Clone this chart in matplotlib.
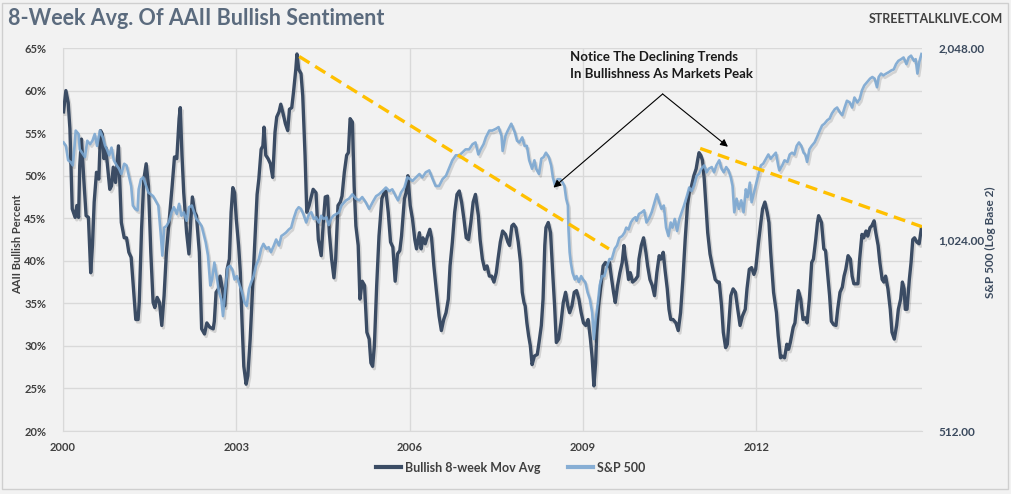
import matplotlib
matplotlib.use("Agg")
import matplotlib.pyplot as plt
import matplotlib.patheffects as pe
from matplotlib.patches import Rectangle
from matplotlib.ticker import FixedLocator, FuncFormatter, NullLocator

plt.rcParams["font.family"] = ["Lato", "DejaVu Sans"]

BG = "#f2f2f2"
BULL = "#3b4c64"
SPX = "#7ba7d1"
GRID = "#d9d9d9"
TREND = "#ffc000"
INK = "#404040"

# AAII bullish sentiment, 8-week moving average (percent)
bull_years = [
    2000.01, 2000.05, 2000.09, 2000.12, 2000.16, 2000.21, 2000.24, 2000.27, 2000.29, 2000.32,
    2000.36, 2000.40, 2000.44, 2000.48, 2000.51, 2000.54, 2000.58, 2000.62, 2000.65, 2000.68,
    2000.71, 2000.74, 2000.77, 2000.81, 2000.84, 2000.87, 2000.91, 2000.96, 2000.99, 2001.01,
    2001.06, 2001.10, 2001.14, 2001.18, 2001.22, 2001.26, 2001.30, 2001.32, 2001.36, 2001.40,
    2001.44, 2001.48, 2001.52, 2001.56, 2001.59, 2001.63, 2001.67, 2001.71, 2001.75, 2001.79,
    2001.85, 2001.89, 2001.93, 2001.97, 2002.01, 2002.03, 2002.06, 2002.09, 2002.14, 2002.18,
    2002.21, 2002.24, 2002.28, 2002.31, 2002.36, 2002.40, 2002.45, 2002.49,
    2002.54, 2002.60, 2002.62, 2002.65, 2002.69, 2002.72, 2002.76, 2002.80, 2002.84, 2002.88,
    2002.91, 2002.94, 2002.97, 2003.00, 2003.04, 2003.07, 2003.10, 2003.13, 2003.17, 2003.20,
    2003.24, 2003.29, 2003.33, 2003.36, 2003.39, 2003.43, 2003.46, 2003.48, 2003.51, 2003.55,
    2003.59, 2003.63, 2003.67, 2003.70, 2003.74, 2003.77, 2003.81, 2003.85, 2003.89, 2003.92,
    2003.96, 2003.99, 2004.03, 2004.05, 2004.08, 2004.12, 2004.15, 2004.19, 2004.22, 2004.26,
    2004.29, 2004.33, 2004.38, 2004.42, 2004.47, 2004.51, 2004.54, 2004.58, 2004.61, 2004.65,
    2004.69, 2004.72, 2004.76, 2004.80, 2004.83, 2004.87, 2004.91, 2004.94, 2004.97,
    2005.01, 2005.04, 2005.07, 2005.11, 2005.14, 2005.18, 2005.22, 2005.26, 2005.30, 2005.33,
    2005.36, 2005.39, 2005.43, 2005.47, 2005.52, 2005.56, 2005.59, 2005.63, 2005.67, 2005.71,
    2005.75, 2005.79, 2005.83, 2005.86, 2005.91, 2005.94, 2005.97, 2006.01, 2006.05, 2006.09,
    2006.12, 2006.17, 2006.20, 2006.23, 2006.27, 2006.31, 2006.35, 2006.38, 2006.42, 2006.46,
    2006.51, 2006.55, 2006.59, 2006.63, 2006.67, 2006.70, 2006.74, 2006.78, 2006.82, 2006.86,
    2006.90, 2006.94, 2006.98, 2007.02, 2007.06, 2007.10, 2007.14, 2007.19, 2007.22, 2007.26,
    2007.30, 2007.34, 2007.38,
    2007.42, 2007.46, 2007.50, 2007.53, 2007.57, 2007.61, 2007.66, 2007.70, 2007.73, 2007.77,
    2007.80, 2007.84, 2007.88, 2007.92, 2007.95, 2007.98, 2008.00, 2008.03, 2008.06, 2008.09,
    2008.12, 2008.16, 2008.21, 2008.24, 2008.28, 2008.31, 2008.34, 2008.36, 2008.40, 2008.44,
    2008.48, 2008.51, 2008.54, 2008.58, 2008.62, 2008.66, 2008.70, 2008.74, 2008.77, 2008.81,
    2008.85, 2008.89, 2008.93, 2008.97, 2009.01, 2009.05, 2009.09, 2009.13, 2009.16, 2009.19,
    2009.22, 2009.24, 2009.27, 2009.31, 2009.35, 2009.39, 2009.43, 2009.46, 2009.49, 2009.53,
    2009.56, 2009.60, 2009.64, 2009.68, 2009.71, 2009.73, 2009.76, 2009.79, 2009.82, 2009.86,
    2009.91, 2009.95, 2009.97, 2010.01, 2010.05, 2010.09, 2010.12, 2010.16, 2010.20, 2010.24,
    2010.28, 2010.32, 2010.35, 2010.39, 2010.42, 2010.46, 2010.49, 2010.52, 2010.56, 2010.61,
    2010.65, 2010.69, 2010.73, 2010.77, 2010.81, 2010.84, 2010.88, 2010.92, 2010.96, 2010.99,
    2011.01, 2011.04, 2011.07, 2011.10, 2011.13, 2011.16, 2011.20, 2011.24, 2011.29, 2011.33,
    2011.36, 2011.40, 2011.43, 2011.47, 2011.50, 2011.53, 2011.56, 2011.60, 2011.64, 2011.68,
    2011.72, 2011.76, 2011.81, 2011.84, 2011.88, 2011.92, 2011.96, 2011.99, 2012.04, 2012.08,
    2012.11, 2012.15, 2012.19, 2012.22, 2012.25, 2012.30,
    2012.35, 2012.38, 2012.42, 2012.45, 2012.49, 2012.53, 2012.56, 2012.59, 2012.64, 2012.67,
    2012.70, 2012.73, 2012.77, 2012.81, 2012.85, 2012.88, 2012.92, 2012.96, 2012.99, 2013.03,
    2013.06, 2013.08, 2013.13, 2013.17, 2013.20, 2013.24, 2013.27, 2013.30, 2013.34, 2013.38,
    2013.41, 2013.45, 2013.49, 2013.52, 2013.55, 2013.59, 2013.63, 2013.66, 2013.69, 2013.73,
    2013.76, 2013.79, 2013.83, 2013.86, 2013.90, 2013.93, 2013.97, 2014.00, 2014.04, 2014.07,
    2014.11, 2014.14, 2014.18, 2014.21, 2014.24, 2014.28, 2014.32, 2014.35, 2014.39, 2014.43,
    2014.46, 2014.50, 2014.53, 2014.56, 2014.58, 2014.61, 2014.65, 2014.68, 2014.71, 2014.74,
    2014.78, 2014.82, 2014.86,
]
bull_pct = [
    57.5, 60.0, 58.6, 55.5, 46.1, 45.1, 46.5, 45.1, 51.2, 54.3,
    49.6, 45.3, 45.1, 38.6, 41.8, 46.9, 50.4, 49.6, 55.3, 54.9,
    52.0, 53.3, 51.2, 48.4, 48.8, 51.0, 49.2, 53.5, 48.0, 44.5,
    42.7, 42.7, 41.0, 40.4, 36.7, 33.1, 33.1, 35.1, 43.7, 49.6,
    51.4, 48.8, 41.0, 35.1, 34.5, 35.7, 35.1, 32.4, 35.9, 41.0,
    45.7, 48.8, 52.2, 52.0, 56.7, 58.0, 52.4, 48.0, 43.3, 40.8,
    44.5, 47.5, 45.7, 45.3, 41.0, 32.0, 31.4, 32.7,
    32.2, 32.0, 32.9, 36.3, 36.7, 38.2, 36.7, 34.7, 39.0, 40.2,
    45.7, 48.6, 48.0, 44.9, 41.8, 38.6, 32.7, 27.6, 25.5, 26.5,
    30.8, 37.8, 43.3, 47.8, 49.6, 53.1, 53.5, 55.7, 52.4, 52.0,
    51.4, 49.8, 55.1, 56.9, 57.5, 58.4, 57.3, 56.1, 55.3, 57.8,
    58.0, 59.8, 62.5, 64.3, 62.5, 62.0, 59.4, 52.4, 45.7, 46.5,
    47.3, 48.4, 48.0, 42.5, 40.6, 44.9, 47.5, 47.6, 43.3, 40.2,
    38.0, 40.2, 46.5, 46.9, 47.6, 50.4, 52.4, 52.7, 56.7,
    56.3, 48.8, 44.1, 41.8, 35.5, 37.6, 37.1, 31.6, 30.8, 28.0,
    27.6, 30.0, 37.1, 42.9, 47.3, 48.0, 48.2, 45.7, 42.2, 41.6,
    37.6, 40.8, 41.2, 42.9, 47.3, 48.0, 50.0, 46.5, 44.9, 42.5,
    41.4, 43.3, 41.4, 42.7, 42.0, 42.9, 43.7, 42.7, 39.4, 36.7,
    33.5, 31.8, 33.1, 33.9, 35.5, 39.4, 42.2, 45.7, 47.8, 48.2,
    46.9, 44.9, 42.7, 42.5, 44.5, 46.9, 47.8, 45.3, 42.5, 40.2,
    39.0, 39.4, 38.2,
    38.2, 37.5, 38.6, 40.2, 42.2, 43.5, 43.1, 42.2, 41.8, 44.1,
    44.3, 43.9, 42.2, 39.8, 36.3, 35.1, 34.7, 32.7, 31.2, 30.0,
    27.8, 28.8, 29.0, 30.4, 32.4, 35.5, 41.8, 43.9, 44.5, 43.3,
    38.2, 34.7, 30.4, 30.8, 32.7, 35.1, 36.3, 34.7, 33.9, 34.7,
    36.3, 36.5, 35.5, 33.9, 32.7, 32.4, 33.1, 30.8, 28.6, 25.3,
    28.0, 31.6, 34.7, 37.1, 39.4, 39.8, 39.4, 39.8, 38.2, 36.3,
    35.1, 37.1, 38.6, 39.8, 41.8, 40.6, 39.4, 37.8, 38.6, 37.5,
    37.8, 38.2, 40.2, 41.8, 42.7, 41.0, 39.4, 37.8, 37.1, 35.9,
    38.6, 40.6, 40.2, 41.0, 39.0, 36.7, 34.3, 33.1, 33.1, 32.7,
    31.8, 33.9, 37.8, 42.5, 46.5, 48.0, 48.8, 50.0, 50.8, 52.0,
    52.7, 52.4, 51.8, 49.6, 46.5, 43.3, 40.8, 39.4, 37.8, 37.5,
    37.5, 34.7, 31.6, 29.8, 30.2, 33.1, 35.9, 36.7, 36.3, 34.3,
    32.4, 33.5, 34.3, 36.7, 39.0, 39.2, 38.4, 39.0, 42.2, 44.5,
    46.1, 46.9, 45.7, 44.5, 41.0, 36.3,
    33.9, 31.2, 28.6, 28.8, 28.6, 30.2, 29.6, 30.4, 32.2, 32.7,
    34.7, 36.5, 35.5, 33.1, 33.3, 32.7, 35.5, 39.8, 40.2, 42.5,
    44.5, 45.3, 44.5, 41.4, 41.2, 38.2, 35.9, 32.9, 32.5, 32.4,
    34.3, 36.3, 36.9, 38.2, 39.0, 40.6, 40.2, 38.2, 37.3, 37.3,
    37.3, 40.2, 43.1, 42.7, 43.5, 42.9, 43.9, 44.1, 44.7, 43.3,
    41.8, 39.8, 37.8, 37.5, 38.2, 36.7, 34.3, 31.6, 30.8, 32.4,
    34.3, 35.5, 37.5, 36.7, 34.3, 34.3, 37.8, 39.8, 42.5, 42.7,
    42.2, 42.0, 43.9,
]

# S&P 500 index level
spx_years = [
    2000.01, 2000.05, 2000.09, 2000.13, 2000.17, 2000.20, 2000.22, 2000.27, 2000.29, 2000.33,
    2000.38, 2000.42, 2000.47, 2000.51, 2000.55, 2000.59, 2000.64, 2000.69, 2000.73, 2000.76,
    2000.80, 2000.84, 2000.88, 2000.93, 2000.97, 2001.01, 2001.06, 2001.10, 2001.14, 2001.18,
    2001.21, 2001.25, 2001.29, 2001.31, 2001.35, 2001.39, 2001.44, 2001.48, 2001.52, 2001.56,
    2001.60, 2001.65, 2001.69, 2001.72, 2001.75, 2001.79, 2001.84, 2001.88, 2001.92, 2001.97,
    2002.01, 2002.05, 2002.09, 2002.14, 2002.18, 2002.23, 2002.27, 2002.31, 2002.36, 2002.40,
    2002.47, 2002.51, 2002.55, 2002.58, 2002.62, 2002.66, 2002.70, 2002.74, 2002.77, 2002.81,
    2002.85, 2002.89, 2002.93, 2002.97, 2003.01, 2003.06, 2003.10, 2003.14, 2003.18, 2003.22,
    2003.26, 2003.30, 2003.34, 2003.39, 2003.43, 2003.47, 2003.52, 2003.56, 2003.60, 2003.65,
    2003.69, 2003.74, 2003.78, 2003.82, 2003.86, 2003.91, 2003.95, 2003.99, 2004.04, 2004.08,
    2004.12, 2004.16, 2004.21, 2004.26, 2004.30, 2004.34, 2004.38, 2004.43, 2004.47, 2004.51,
    2004.56, 2004.60, 2004.64, 2004.68, 2004.73, 2004.78, 2004.82, 2004.87,
    2004.90, 2004.95, 2005.01, 2005.07, 2005.13, 2005.18, 2005.24, 2005.30, 2005.36, 2005.42,
    2005.47, 2005.53, 2005.59, 2005.65, 2005.70, 2005.76, 2005.80, 2005.85, 2005.91, 2005.96,
    2006.01, 2006.05, 2006.11, 2006.17, 2006.22, 2006.28, 2006.34, 2006.40, 2006.45, 2006.51,
    2006.57, 2006.63, 2006.68, 2006.74, 2006.80, 2006.86, 2006.91, 2006.97, 2007.03, 2007.09,
    2007.14, 2007.19, 2007.23, 2007.28, 2007.32, 2007.38,
    2007.43, 2007.49, 2007.54, 2007.59, 2007.61, 2007.66, 2007.70, 2007.76, 2007.82, 2007.86,
    2007.90, 2007.95, 2007.99, 2008.03, 2008.07, 2008.12, 2008.16, 2008.19, 2008.24, 2008.28,
    2008.32, 2008.36, 2008.41, 2008.45, 2008.48, 2008.52, 2008.56, 2008.61, 2008.65, 2008.68,
    2008.71, 2008.74, 2008.75, 2008.77, 2008.79, 2008.82, 2008.86, 2008.89, 2008.93, 2008.97,
    2009.00, 2009.04, 2009.08, 2009.12, 2009.16, 2009.19, 2009.22, 2009.26, 2009.29, 2009.33,
    2009.37, 2009.42, 2009.46, 2009.50, 2009.55, 2009.59, 2009.63, 2009.68, 2009.72, 2009.75,
    2009.79, 2009.83, 2009.87, 2009.91,
    2009.93, 2009.97, 2010.02, 2010.06, 2010.10, 2010.14, 2010.19, 2010.24, 2010.28, 2010.32,
    2010.36, 2010.40, 2010.44, 2010.48, 2010.52, 2010.55, 2010.59, 2010.63, 2010.67, 2010.71,
    2010.75, 2010.80, 2010.84, 2010.88, 2010.92, 2010.97, 2011.01, 2011.05, 2011.10, 2011.14,
    2011.18, 2011.23, 2011.27, 2011.31, 2011.36, 2011.40, 2011.44, 2011.48, 2011.52, 2011.56,
    2011.59, 2011.62, 2011.66, 2011.70, 2011.74, 2011.78, 2011.82, 2011.85, 2011.89, 2011.92,
    2011.96, 2011.99, 2012.04, 2012.08, 2012.12, 2012.17, 2012.21, 2012.25, 2012.30, 2012.34,
    2012.38,
    2012.40, 2012.45, 2012.49, 2012.54, 2012.58, 2012.62, 2012.66, 2012.70, 2012.74, 2012.78,
    2012.82, 2012.85, 2012.88, 2012.92, 2012.96, 2013.01, 2013.05, 2013.10, 2013.14, 2013.18,
    2013.23, 2013.27, 2013.31, 2013.36, 2013.40, 2013.44, 2013.49, 2013.53, 2013.57, 2013.62,
    2013.66, 2013.70, 2013.75, 2013.79, 2013.83, 2013.87, 2013.92, 2013.97, 2014.01, 2014.05,
    2014.09, 2014.12, 2014.16, 2014.20, 2014.25, 2014.30, 2014.34, 2014.38, 2014.42, 2014.46,
    2014.51, 2014.55, 2014.60, 2014.64, 2014.68, 2014.73, 2014.76, 2014.79, 2014.82, 2014.86,
]
spx_close = [
    1455, 1437, 1364, 1356, 1339, 1437, 1519, 1500, 1419, 1402,
    1380, 1464, 1446, 1464, 1500, 1437, 1519, 1482, 1437, 1419,
    1389, 1428, 1364, 1339, 1323, 1298, 1347, 1339, 1290, 1243,
    1158, 1144, 1138, 1228, 1274, 1282, 1243, 1213, 1206, 1198,
    1180, 1158, 1050, 966, 1069, 1075, 1096, 1130, 1151, 1123,
    1165, 1116, 1130, 1096, 1151, 1158, 1130, 1103, 1089, 1075,
    1014, 966, 867, 886, 942, 897, 846, 825, 776, 856,
    925, 931, 919, 886, 897, 867, 846, 816, 805, 856,
    878, 897, 931, 954, 990, 1008, 990, 996, 978, 1002,
    1024, 1002, 1037, 1043, 1050, 1062, 1069, 1103, 1138, 1151,
    1144, 1123, 1089, 1123, 1130, 1103, 1110, 1089, 1116, 1103,
    1110, 1079, 1103, 1116, 1123, 1130, 1158, 1172,
    1180, 1187, 1206, 1187, 1180, 1194, 1172, 1144, 1172, 1198,
    1206, 1220, 1236, 1220, 1228, 1198, 1180, 1213, 1236, 1282,
    1274, 1266, 1282, 1298, 1282, 1306, 1315, 1274, 1243, 1243,
    1274, 1290, 1323, 1364, 1389, 1389, 1402, 1419, 1419, 1446,
    1455, 1393, 1419, 1446, 1482, 1519,
    1519, 1528, 1538, 1491, 1411, 1491, 1519, 1557, 1510, 1464,
    1455, 1482, 1437, 1437, 1364, 1323, 1364, 1323, 1298, 1372,
    1380, 1402, 1380, 1339, 1282, 1243, 1274, 1274, 1258, 1243,
    1187, 1158, 1062, 978, 942, 908, 886, 897, 878, 897,
    886, 878, 846, 825, 786, 714, 766, 816, 867, 897,
    897, 931, 954, 954, 990, 1002, 1030, 1037, 1050, 1069,
    1062, 1089, 1103, 1110,
    1096, 1123, 1130, 1138, 1089, 1103, 1130, 1172, 1206, 1172,
    1144, 1158, 1069, 1037, 1089, 1069, 1103, 1056, 1103, 1130,
    1158, 1198, 1236, 1220, 1243, 1290, 1298, 1323, 1339, 1306,
    1323, 1331, 1306, 1339, 1364, 1323, 1306, 1331, 1315, 1282,
    1243, 1130, 1187, 1144, 1180, 1130, 1228, 1194, 1258, 1172,
    1213, 1243, 1298, 1339, 1347, 1372, 1393, 1372, 1389, 1402,
    1339,
    1315, 1339, 1364, 1356, 1393, 1402, 1393, 1437, 1455, 1437,
    1402, 1393, 1356, 1419, 1437, 1455, 1482, 1519, 1547, 1557,
    1577, 1586, 1616, 1641, 1651, 1626, 1606, 1651, 1692, 1682,
    1651, 1712, 1682, 1702, 1756, 1788, 1810, 1833, 1844, 1833,
    1777, 1844, 1867, 1855, 1867, 1878, 1889, 1895, 1932, 1955,
    1967, 1979, 1932, 1979, 1992, 1955, 1967, 1867, 1944, 2004,
]

# dashed trend lines through the sentiment peaks (year, percent)
trend_2004_x = [2004.09, 2009.45]
trend_2004_y = [64.0, 41.4]
trend_2011_x = [2011.03, 2014.87]
trend_2011_y = [53.2, 44.0]

year_ticks = [2000, 2003, 2006, 2009, 2012]
pct_ticks = [20, 25, 30, 35, 40, 45, 50, 55, 60, 65]
spx_ticks = [512, 1024, 2048]

fig = plt.figure(figsize=(10.11, 4.94), dpi=100)
fig.patch.set_facecolor(BG)
ax = fig.add_axes([0.0623, 0.1275, 0.8497, 0.7753])
ax.set_facecolor(BG)
ax2 = ax.twinx()

shadow = [pe.SimpleLineShadow(offset=(1.2, -1.8), shadow_color="black", alpha=0.13), pe.Normal()]

ax.plot(bull_years, bull_pct, color=BULL, lw=2.4, solid_joinstyle="round",
        path_effects=shadow, label="Bullish 8-week Mov Avg", zorder=3)
ax2.plot(spx_years, spx_close, color=SPX, lw=1.9, alpha=0.9, solid_joinstyle="round",
         path_effects=shadow, label="S&P 500", zorder=3)

dash = dict(color=TREND, lw=2.4, dashes=(3.6, 2.0), transform=ax.transData, zorder=4)
ax2.plot(trend_2004_x, trend_2004_y, **dash)
ax2.plot(trend_2011_x, trend_2011_y, **dash)

arrow = dict(arrowstyle="-|>", color="black", lw=0.8, mutation_scale=11,
             shrinkA=0, shrinkB=0)
ax2.annotate("", xy=(2008.49, 48.6), xytext=(2010.38, 59.6),
             xycoords=ax.transData, textcoords=ax.transData, arrowprops=arrow, zorder=5)
ax2.annotate("", xy=(2011.51, 53.4), xytext=(2010.38, 59.6),
             xycoords=ax.transData, textcoords=ax.transData, arrowprops=arrow, zorder=5)
ax2.text(2008.77, 64.6, "Notice The Declining Trends\nIn Bullishness As Markets Peak",
         transform=ax.transData, ha="left", va="top", fontsize=9.5,
         fontweight="bold", color="#1a1a1a", linespacing=1.45, zorder=5)

ax.set_xlim(2000.0, 2014.87)
ax.set_ylim(20, 65)
ax2.set_yscale("log", base=2)
ax2.set_ylim(512, 2048)

ax.xaxis.set_major_locator(FixedLocator(year_ticks))
ax.xaxis.set_major_formatter(FuncFormatter(lambda v, _: f"{v:.0f}"))
ax.yaxis.set_major_locator(FixedLocator(pct_ticks))
ax.yaxis.set_major_formatter(FuncFormatter(lambda v, _: f"{v:.0f}%"))
ax2.yaxis.set_major_locator(FixedLocator(spx_ticks))
ax2.yaxis.set_minor_locator(NullLocator())
ax2.yaxis.set_major_formatter(FuncFormatter(lambda v, _: f"{v:,.2f}"))

ax.grid(True, color=GRID, lw=1)
ax.set_axisbelow(True)
for a in (ax, ax2):
    for side in ("top", "right"):
        a.spines[side].set_visible(False)
    a.spines["left"].set_color(GRID)
    a.spines["bottom"].set_color(GRID)
ax2.spines["left"].set_visible(False)
ax2.spines["bottom"].set_visible(False)

ax.tick_params(axis="both", length=0, labelsize=8, labelcolor=INK)
ax.tick_params(axis="y", pad=12)
ax.tick_params(axis="x", pad=8)
ax2.tick_params(axis="y", length=0, labelsize=8.5, labelcolor="#3b4a5e", pad=12)
for lbl in ax.get_xticklabels() + ax.get_yticklabels() + ax2.get_yticklabels():
    lbl.set_fontweight("bold")

fig.text(18 / 1011, 0.505, "AAII Bullish Percent", rotation=90, ha="center", va="center",
         fontsize=8, fontweight="bold", color=INK)
fig.text(990 / 1011, 0.51, "S&P 500 (Log Base 2)", rotation=90, ha="center", va="center",
         fontsize=8.5, fontweight="bold", color="#3b4a5e")

fig.text(0.008, 0.962, "8-Week Avg. Of AAII Bullish Sentiment", ha="left", va="center",
         fontsize=15.5, fontweight="bold", color="#5b6b7e")
fig.text(0.992, 0.962, "STREETTALKLIVE.COM", ha="right", va="center",
         fontsize=9, fontweight="bold", color=INK)

h1, l1 = ax.get_legend_handles_labels()
h2, l2 = ax2.get_legend_handles_labels()
leg = fig.legend(h1 + h2, l1 + l2, loc="center", bbox_to_anchor=(0.505, 0.053), ncol=2,
                 frameon=False, fontsize=9, handlelength=2.0, columnspacing=2.2,
                 handletextpad=0.3)
for t in leg.get_texts():
    t.set_fontweight("bold")
    t.set_color(INK)
for h in leg.legend_handles:
    h.set_path_effects([])
    h.set_linewidth(3)

fig.patches.append(Rectangle((2 / 1011, 5 / 494), 1006 / 1011, 486 / 494,
                             transform=fig.transFigure, fill=False,
                             edgecolor="#cfcfcf", lw=1))

fig.savefig("out.png", dpi=100, facecolor=BG)
